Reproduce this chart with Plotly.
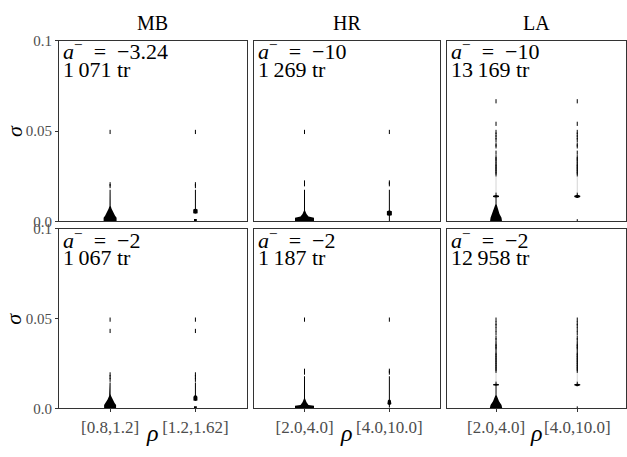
import plotly.graph_objects as go

W, H = 627, 457
FONT = "Liberation Serif"

# ---------------- data ----------------
METHODS = ["MB", "HR", "LA"]
MB_BINS = ["[0.8,1.2]", "[1.2,1.62]"]
HR_BINS = ["[2.0,4.0]", "[4.0,10.0]"]
LA_BINS = ["[2.0,4.0]", "[4.0,10.0]"]
A_MINUS_TOP = ["−3.24", "−10", "−10"]
A_MINUS_BOTTOM = ["−2", "−2", "−2"]
TRIPS_TOP = ["1\u2009071", "1\u2009269", "13\u2009169"]
TRIPS_BOTTOM = ["1\u2009067", "1\u2009187", "12\u2009958"]
SIGMA_TICKS = [0.0, 0.05, 0.1]
SIGMA_TICKTEXT = ["0.0", "0.05", "0.1"]

# violin density profiles: sigma levels and half-width (density, px units)
# --- top row (a- = -3.24 / -10 / -10)
mb1_lo_sig = [0, 0.002, 0.003, 0.005, 0.007, 0.0085, 0.0175]
mb1_lo_den = [6.5, 6.5, 5, 3, 1.5, 0.6, 0.5]
mb1_lo_out = [0.0195, 0.0205, 0.0495]
mb1_hi_sig = [0, 0.0012, 0.0013, 0.0042, 0.0045, 0.0065, 0.007, 0.0175]
mb1_hi_den = [1.4, 1.4, 0, 0, 2.2, 2.2, 0.5, 0.5]
mb1_hi_out = [0.0195, 0.0205, 0.0495]

hr1_lo_sig = [0, 0.002, 0.0027, 0.004, 0.006, 0.0175]
hr1_lo_den = [9.5, 9.5, 4, 2, 0.5, 0.5]
hr1_lo_out = [0.0205, 0.0215, 0.0495]
hr1_hi_sig = [0, 0.003, 0.0033, 0.0055, 0.006, 0.0175]
hr1_hi_den = [0.5, 0.5, 2.5, 2.5, 0.5, 0.5]
hr1_hi_out = [0.0205, 0.0215, 0.0495]

la1_lo_sig = [0, 0.002, 0.004, 0.006, 0.008, 0.0095, 0.0131, 0.0134, 0.0142, 0.0145, 0.016]
la1_lo_den = [6, 5.5, 3.5, 2.5, 1.5, 0.5, 0.5, 3, 3, 0.5, 0.5]
la1_lo_tail = [0.016, 0.025]
la1_lo_out = [0.0665, 0.054, 0.0495, 0.048, 0.0465, 0.045, 0.0425, 0.0415, 0.038,
              0.0355, 0.0345, 0.0335, 0.032, 0.031, 0.030, 0.029, 0.028, 0.027, 0.026]
la1_hi_sig = [0.0129, 0.0134, 0.0142, 0.0147, 0.016]
la1_hi_den = [0.5, 3, 3, 0.5, 0.5]
la1_hi_tail = [0.016, 0.025]
la1_hi_out = [0.0, 0.0665, 0.054, 0.0495, 0.048, 0.0465, 0.045, 0.0425, 0.0415, 0.038,
              0.0355, 0.0345, 0.0335, 0.032, 0.031, 0.030, 0.029, 0.028, 0.027, 0.026]

# --- bottom row (a- = -2)
mb2_lo_sig = [0, 0.002, 0.003, 0.005, 0.007, 0.008, 0.0145]
mb2_lo_den = [6, 6, 4.5, 2.5, 1, 0.5, 0.5]
mb2_lo_out = [0.016, 0.0175, 0.019, 0.0432, 0.0495]
mb2_hi_sig = [0, 0.0012, 0.0013, 0.0042, 0.0045, 0.0065, 0.0075, 0.0145]
mb2_hi_den = [1.4, 1.4, 0, 0, 2, 2, 0.5, 0.5]
mb2_hi_out = [0.016, 0.0175, 0.019, 0.0432, 0.0495]

hr2_lo_sig = [0, 0.0015, 0.002, 0.0035, 0.0055, 0.018]
hr2_lo_den = [9.5, 9.5, 4, 2, 0.5, 0.5]
hr2_lo_out = [0.020, 0.021, 0.0495]
hr2_hi_sig = [0.0005, 0.002, 0.0025, 0.0045, 0.005, 0.018]
hr2_hi_den = [0.5, 0.5, 2, 1.5, 0.5, 0.5]
hr2_hi_out = [0.020, 0.021, 0.0495]

la2_lo_sig = [0, 0.002, 0.004, 0.006, 0.0075, 0.0126, 0.0129, 0.0135, 0.0138, 0.015]
la2_lo_den = [6.3, 5.5, 3, 1.5, 0.5, 0.5, 3, 3, 0.5, 0.5]
la2_lo_tail = [0.015, 0.021]
la2_lo_out = [0.0495, 0.0475, 0.046, 0.044, 0.042, 0.0395, 0.038, 0.036, 0.035, 0.034,
              0.033, 0.031, 0.030, 0.029, 0.028, 0.027, 0.026, 0.025, 0.024, 0.023, 0.022, 0.021]
la2_hi_sig = [0.0124, 0.0129, 0.0135, 0.0138, 0.015]
la2_hi_den = [0.5, 3, 3, 0.5, 0.5]
la2_hi_tail = [0.015, 0.021]
la2_hi_out = [0.0, 0.0495, 0.0475, 0.046, 0.044, 0.042, 0.0395, 0.038, 0.036, 0.035, 0.034,
              0.033, 0.031, 0.030, 0.029, 0.028, 0.027, 0.026, 0.025, 0.024, 0.023, 0.022, 0.021]

PANELS = [
    (0, 0, MB_BINS, [(mb1_lo_sig, mb1_lo_den, mb1_lo_out, None), (mb1_hi_sig, mb1_hi_den, mb1_hi_out, None)]),
    (0, 1, HR_BINS, [(hr1_lo_sig, hr1_lo_den, hr1_lo_out, None), (hr1_hi_sig, hr1_hi_den, hr1_hi_out, None)]),
    (0, 2, LA_BINS, [(la1_lo_sig, la1_lo_den, la1_lo_out, la1_lo_tail), (la1_hi_sig, la1_hi_den, la1_hi_out, la1_hi_tail)]),
    (1, 0, MB_BINS, [(mb2_lo_sig, mb2_lo_den, mb2_lo_out, None), (mb2_hi_sig, mb2_hi_den, mb2_hi_out, None)]),
    (1, 1, HR_BINS, [(hr2_lo_sig, hr2_lo_den, hr2_lo_out, None), (hr2_hi_sig, hr2_hi_den, hr2_hi_out, None)]),
    (1, 2, LA_BINS, [(la2_lo_sig, la2_lo_den, la2_lo_out, la2_lo_tail), (la2_hi_sig, la2_hi_den, la2_hi_out, la2_hi_tail)]),
]

# ---------------- layout geometry ----------------
COL_PX = [(59, 247), (254, 441), (448, 627)]
ROW_PX = [(34, 221), (229, 415)]
XR = [-0.6, 1.6]

fig = go.Figure()
layout = dict(
    width=W, height=H, margin=dict(l=0, r=0, t=0, b=0),
    paper_bgcolor="white", plot_bgcolor="white", showlegend=False,
    font=dict(family=FONT, color="black"),
)
annotations = []

for idx, (r, c, bins, violins) in enumerate(PANELS):
    n = idx + 1
    xa = "xaxis" if n == 1 else f"xaxis{n}"
    ya = "yaxis" if n == 1 else f"yaxis{n}"
    xref = "x" if n == 1 else f"x{n}"
    yref = "y" if n == 1 else f"y{n}"
    x0, x1 = COL_PX[c]
    y0, y1 = ROW_PX[r]
    ppu = (x1 - x0) / (XR[1] - XR[0])
    layout[xa] = dict(
        domain=[x0 / W, x1 / W], range=XR, anchor=yref,
        tickvals=[0, 1], ticktext=bins, showticklabels=(r == 1),
        ticks="outside" if r == 1 else "", ticklen=3, tickcolor="#333",
        tickfont=dict(family=FONT, size=17, color="#4d4d4d"),
        showline=True, mirror=True, linecolor="#333", linewidth=1,
        showgrid=False, zeroline=False, fixedrange=True,
    )
    layout[ya] = dict(
        domain=[1 - y1 / H, 1 - y0 / H], range=[0, 0.1], anchor=xref,
        tickvals=SIGMA_TICKS, ticktext=SIGMA_TICKTEXT, showticklabels=(c == 0),
        ticks="outside" if c == 0 else "", ticklen=3, tickcolor="#333",
        tickfont=dict(family=FONT, size=15, color="#4d4d4d"),
        showline=True, mirror=True, linecolor="#333", linewidth=1,
        showgrid=False, zeroline=False, fixedrange=True,
    )
    for k, (sig, den, out, tail) in enumerate(violins):
        xs = [k + d / ppu for d in den] + [k - d / ppu for d in den[::-1]]
        ys = list(sig) + list(sig[::-1])
        fig.add_trace(go.Scatter(x=xs, y=ys, mode="lines", fill="toself",
                                 fillcolor="black", line=dict(width=0, color="black"),
                                 xaxis=xref, yaxis=yref, hoverinfo="skip"))
        if tail:
            fig.add_trace(go.Scatter(x=[k, k], y=tail, mode="lines",
                                     line=dict(width=1, color="#d4d4d4"),
                                     xaxis=xref, yaxis=yref, hoverinfo="skip"))
        fig.add_trace(go.Scatter(x=[k] * len(out), y=out, mode="markers",
                                 marker=dict(symbol="line-ns-open", size=3, color="black",
                                             line=dict(width=1, color="black")),
                                 xaxis=xref, yaxis=yref, hoverinfo="skip"))
    a_val = A_MINUS_TOP[c] if r == 0 else A_MINUS_BOTTOM[c]
    trips = TRIPS_TOP[c] if r == 0 else TRIPS_BOTTOM[c]
    annotations.append(dict(
        x=(x0 + 2) / W, y=1 - (y0 + 10) / H, xref="paper", yref="paper",
        xanchor="left", yanchor="middle", showarrow=False,
        text=f"<i>a</i><sup>−</sup>\u2002=\u2002{a_val}",
        font=dict(family=FONT, size=22, color="black")))
    annotations.append(dict(
        x=(x0 + 2) / W, y=1 - (y0 + 30) / H, xref="paper", yref="paper",
        xanchor="left", yanchor="middle", showarrow=False,
        text=f"{trips} tr", font=dict(family=FONT, size=22, color="black")))

for c, m in enumerate(METHODS):
    x0, x1 = COL_PX[c]
    annotations.append(dict(x=(x0 + x1) / 2 / W, y=1 - 16 / H, xref="paper", yref="paper",
                            xanchor="center", yanchor="middle", showarrow=False, text=m,
                            font=dict(family=FONT, size=20, color="black")))
    annotations.append(dict(x=(x0 + x1) / 2 / W, y=1 - 440 / H, xref="paper", yref="paper",
                            xanchor="center", yanchor="middle", showarrow=False,
                            text="<i>ρ</i>", font=dict(family=FONT, size=24, color="black")))
for r in range(2):
    y0, y1 = ROW_PX[r]
    annotations.append(dict(x=14 / W, y=1 - (y0 + y1) / 2 / H, xref="paper", yref="paper",
                            xanchor="center", yanchor="middle", showarrow=False,
                            textangle=-90, text="<i>σ</i>",
                            font=dict(family=FONT, size=22, color="black")))

layout["annotations"] = annotations
fig.update_layout(**layout)
fig.write_html("out.html")
